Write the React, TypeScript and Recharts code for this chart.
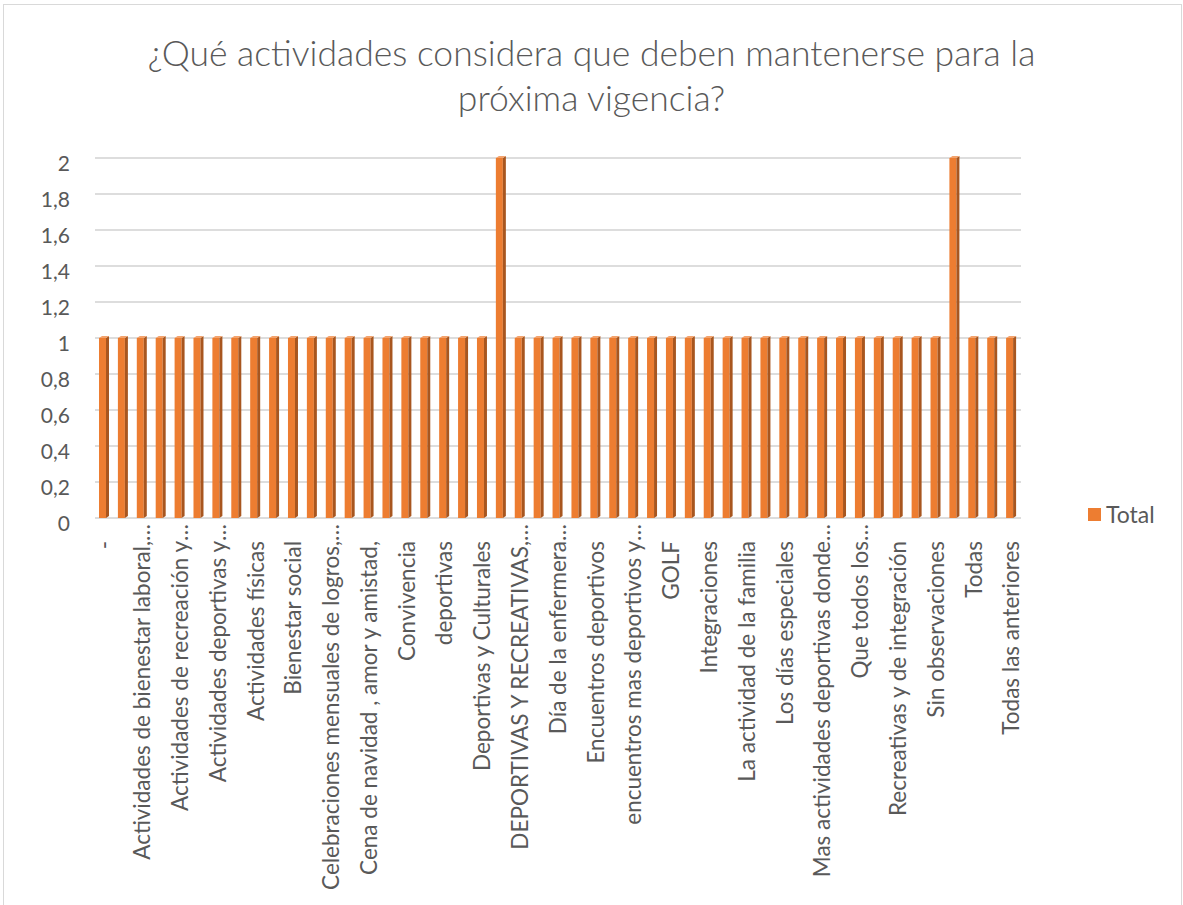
import React from "react"
import { BarChart, Bar, XAxis, YAxis, CartesianGrid } from "recharts"

const categories = [
  "-",
  "Actividades culturales",
  "Actividades de bienestar laboral,…",
  "Actividades de integración",
  "Actividades de recreación y…",
  "Actividades deportivas",
  "Actividades deportivas y…",
  "Actividades en familia",
  "Actividades físicas",
  "Aeróbicos",
  "Bienestar social",
  "Caminatas",
  "Celebraciones mensuales de logros,…",
  "Celebraciones especiales",
  "Cena de navidad , amor y amistad,",
  "Ciclopaseos",
  "Convivencia",
  "Cumpleaños",
  "deportivas",
  "Deportivas y artísticas",
  "Deportivas y Culturales",
  "Deportivas y recreativas",
  "DEPORTIVAS Y RECREATIVAS,…",
  "Día de la familia",
  "Día de la enfermera…",
  "Encuentros culturales",
  "Encuentros deportivos",
  "Encuentros familiares",
  "encuentros mas deportivos y…",
  "Fiesta de fin de año",
  "GOLF",
  "Gimnasio",
  "Integraciones",
  "Juegos deportivos",
  "La actividad de la familia",
  "Las caminatas",
  "Los días especiales",
  "Mas actividades culturales",
  "Mas actividades deportivas donde…",
  "Olimpiadas",
  "Que todos los…",
  "Recreación",
  "Recreativas y de integración",
  "Salidas recreativas",
  "Sin observaciones",
  "Sin respuesta",
  "Todas",
  "Todas las actividades",
  "Todas las anteriores",
]

const totals = [
  1, 1, 1, 1, 1, 1, 1, 1, 1, 1,
  1, 1, 1, 1, 1, 1, 1, 1, 1, 1,
  1, 2, 1, 1, 1, 1, 1, 1, 1, 1,
  1, 1, 1, 1, 1, 1, 1, 1, 1, 1,
  1, 1, 1, 1, 1, 2, 1, 1, 1,
]

const yTicks = [0, 0.2, 0.4, 0.6, 0.8, 1, 1.2, 1.4, 1.6, 1.8, 2]

const data = categories.map((name, i) => ({ name, Total: totals[i] }))

const FONT = "Lato, 'Open Sans', sans-serif"
const GRAY = "#595959"
const ORANGE = "#ED7D31"

const fmt = (v: number) => (Math.round(v * 10) / 10).toString().replace(".", ",")

const Bar3D = (props: any) => {
  const { x, y, width, height } = props
  if (!height) return null
  const side = 3
  const d = 2
  return (
    <g>
      <rect x={x} y={y} width={width - side} height={height} fill={ORANGE} />
      <polygon
        points={`${x + width - side},${y} ${x + width},${y - d} ${x + width},${y + height - d} ${x + width - side},${y + height}`}
        fill="#A8561F"
      />
      <polygon
        points={`${x},${y} ${x + side},${y - d} ${x + width},${y - d} ${x + width - side},${y}`}
        fill="#F3A36D"
      />
    </g>
  )
}

const YTick = (props: any) => {
  const { y, payload } = props
  return (
    <text x={70} y={y + 4} textAnchor="end" dominantBaseline="central" fontSize={21} fill={GRAY} fontFamily={FONT}>
      {fmt(payload.value)}
    </text>
  )
}

const XTick = (props: any) => {
  const { x, payload } = props
  const label: string = payload.value
  const top = 541
  const cut = label.endsWith("…")
  const main = cut ? label.slice(0, -1) : label
  return (
    <g transform={`translate(${x},${top}) rotate(-90)`}>
      <text x={0} y={0} dy="0.35em" textAnchor="end" fontSize={22.5} fill={GRAY} fontFamily={FONT}>
        {main}
      </text>
      {cut && (
        <text x={0} y={0} dy="0.35em" textAnchor="start" fontSize={22.5} fill={GRAY} fontFamily={FONT}>
          …
        </text>
      )}
    </g>
  )
}

export default function App() {
  return (
    <div style={{ position: "absolute", left: 0, top: 0, width: 1183, height: 905, background: "#fff", overflow: "hidden" }}>
      <div
        style={{
          position: "absolute",
          left: 3,
          top: 4,
          width: 1177,
          height: 920,
          border: "1px solid #D9D9D9",
        }}
      />
      <div
        style={{
          position: "absolute",
          left: 0,
          top: 30,
          width: 1183,
          textAlign: "center",
          fontFamily: FONT,
          fontWeight: 300,
          fontSize: 35.5,
          lineHeight: "45px",
          color: GRAY,
        }}
      >
        ¿Qué actividades considera que deben mantenerse para la
        <br />
        próxima vigencia?
      </div>
      <BarChart
        width={1183}
        height={905}
        data={data}
        margin={{ top: 158, right: 162, bottom: 377, left: 0 }}
        style={{ position: "absolute", left: 0, top: 0 }}
      >
        <CartesianGrid vertical={false} stroke="#DDDDDD" strokeWidth={2} />
        <XAxis
          dataKey="name"
          interval={1}
          tick={<XTick />}
          tickLine={false}
          axisLine={false}
          height={10}
        />
        <YAxis
          width={95}
          domain={[0, 2]}
          ticks={yTicks}
          tick={<YTick />}
          tickLine={false}
          axisLine={false}
        />
        <Bar dataKey="Total" barSize={10} shape={<Bar3D />} isAnimationActive={false} />
      </BarChart>
      <div
        style={{
          position: "absolute",
          left: 1088,
          top: 500,
          display: "flex",
          alignItems: "center",
          fontFamily: FONT,
          fontSize: 23,
          color: GRAY,
        }}
      >
        <span style={{ width: 13, height: 13, background: ORANGE, display: "inline-block", marginRight: 5 }} />
        Total
      </div>
    </div>
  )
}
